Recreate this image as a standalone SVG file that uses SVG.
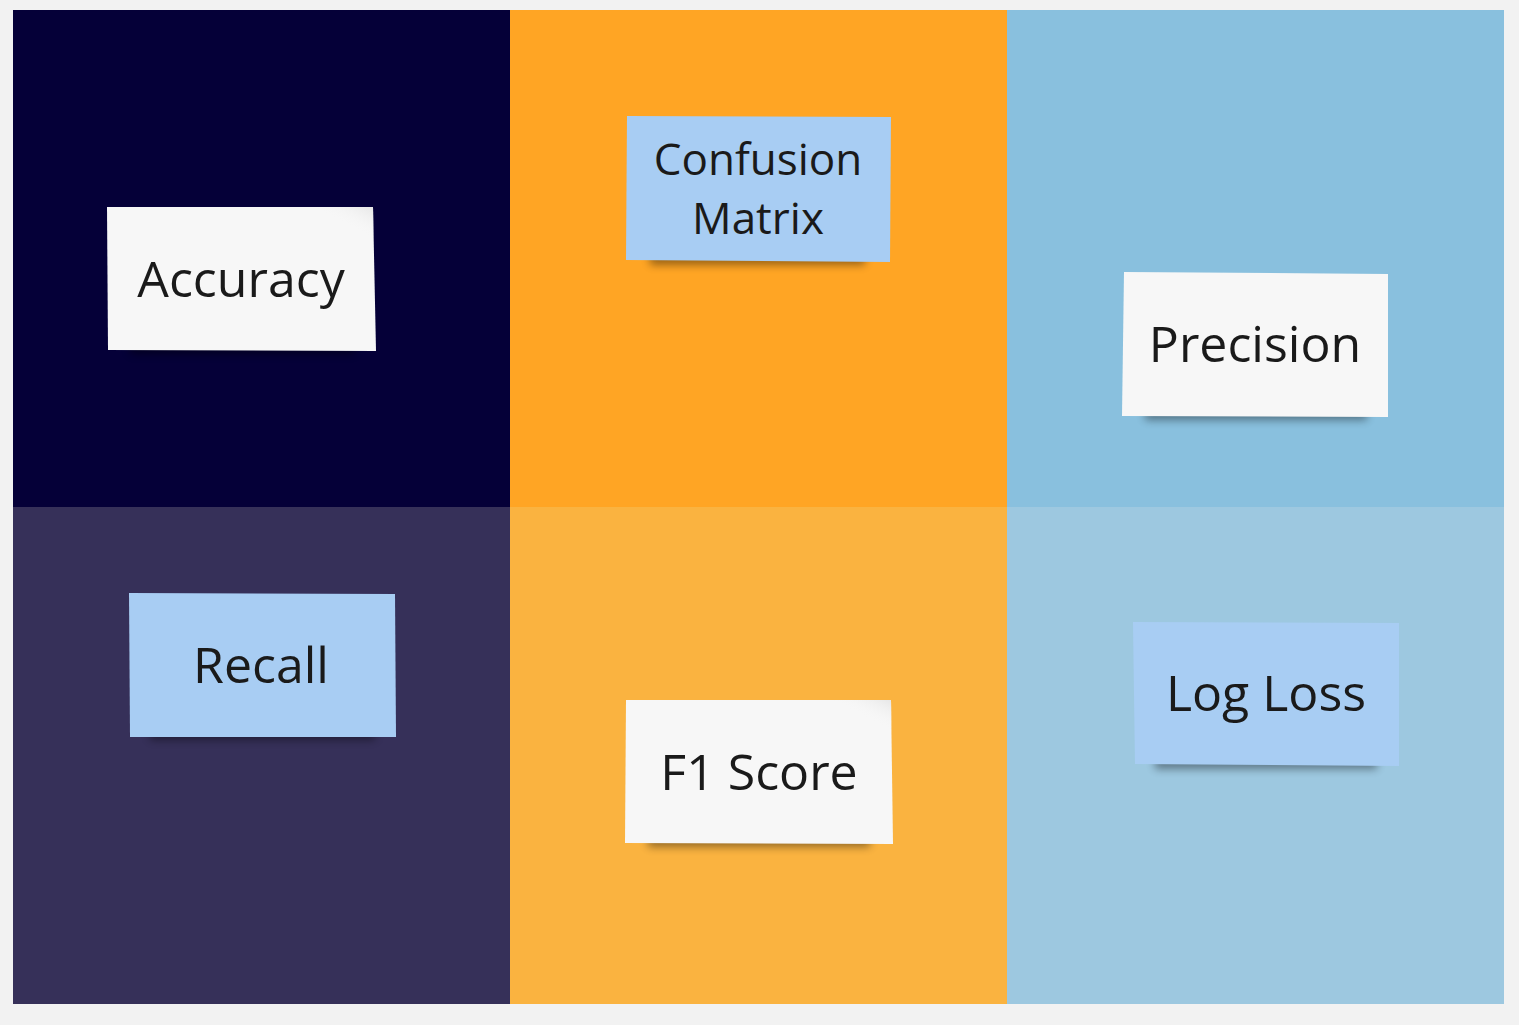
<svg xmlns="http://www.w3.org/2000/svg" width="1519" height="1025" viewBox="0 0 1519 1025">
<style>
.lbl{font-family:"Open Sans","Noto Sans","Liberation Sans",sans-serif;font-size:50px;fill:#1a1a1a;text-anchor:middle}
.sm{font-size:44px}
.white{fill:#f7f7f7}
.blue{fill:#a8cdf3}
.shadow{fill:#000;opacity:0.4;filter:url(#blur)}
</style>
<defs>
<filter id="blur" x="-20%" y="-100%" width="140%" height="300%"><feGaussianBlur stdDeviation="4"/></filter>
<linearGradient id="fold" x1="1" y1="0" x2="0.7" y2="0.4"><stop offset="0" stop-color="#e6e6e6"/><stop offset="1" stop-color="#f7f7f7" stop-opacity="0"/></linearGradient>
</defs>
<rect width="1519" height="1025" fill="#f2f2f2"/>
<g id="grid">
<rect x="13" y="10" width="497" height="497" fill="#050038"/>
<rect x="510" y="10" width="497" height="497" fill="#ffa524"/>
<rect x="1007" y="10" width="497" height="497" fill="#89c0de"/>
<rect x="13" y="507" width="497" height="497" fill="#363059"/>
<rect x="510" y="507" width="497" height="497" fill="#fab340"/>
<rect x="1007" y="507" width="497" height="497" fill="#9dc8e0"/>
</g>
<g id="note-accuracy">
<rect class="shadow" x="130" y="342" width="225" height="12"/>
<polygon class="white" points="107,207 373,207 376,351 108,350"/>
<polygon fill="url(#fold)" points="300,207 373,207 374,260"/>
<text class="lbl" x="241" y="297">Accuracy</text>
</g>
<g id="note-confusion-matrix">
<rect class="shadow" x="650" y="253" width="215" height="12"/>
<polygon class="blue" points="627,116 891,117 890,262 626,260"/>
<text class="lbl sm" x="758" y="175">Confusion</text>
<text class="lbl sm" x="758" y="234">Matrix</text>
</g>
<g id="note-precision">
<rect class="shadow" x="1145" y="408" width="222" height="12"/>
<polygon class="white" points="1124,272 1388,274 1388,417 1122,416"/>
<text class="lbl" x="1255" y="362">Precision</text>
</g>
<g id="note-recall">
<rect class="shadow" x="150" y="728" width="225" height="12"/>
<polygon class="blue" points="129,593 395,594 396,737 130,737"/>
<text class="lbl" x="261" y="683">Recall</text>
</g>
<g id="note-f1-score">
<rect class="shadow" x="648" y="835" width="222" height="12"/>
<polygon class="white" points="626,700 891,700 893,844 625,843"/>
<polygon fill="url(#fold)" points="820,700 891,700 892,750"/>
<text class="lbl" x="759" y="790">F1 Score</text>
</g>
<g id="note-log-loss">
<rect class="shadow" x="1155" y="757" width="222" height="12"/>
<polygon class="blue" points="1133,622 1399,623 1399,766 1135,764"/>
<text class="lbl" x="1266" y="711">Log Loss</text>
</g>
<g id="connectors"/>
</svg>
